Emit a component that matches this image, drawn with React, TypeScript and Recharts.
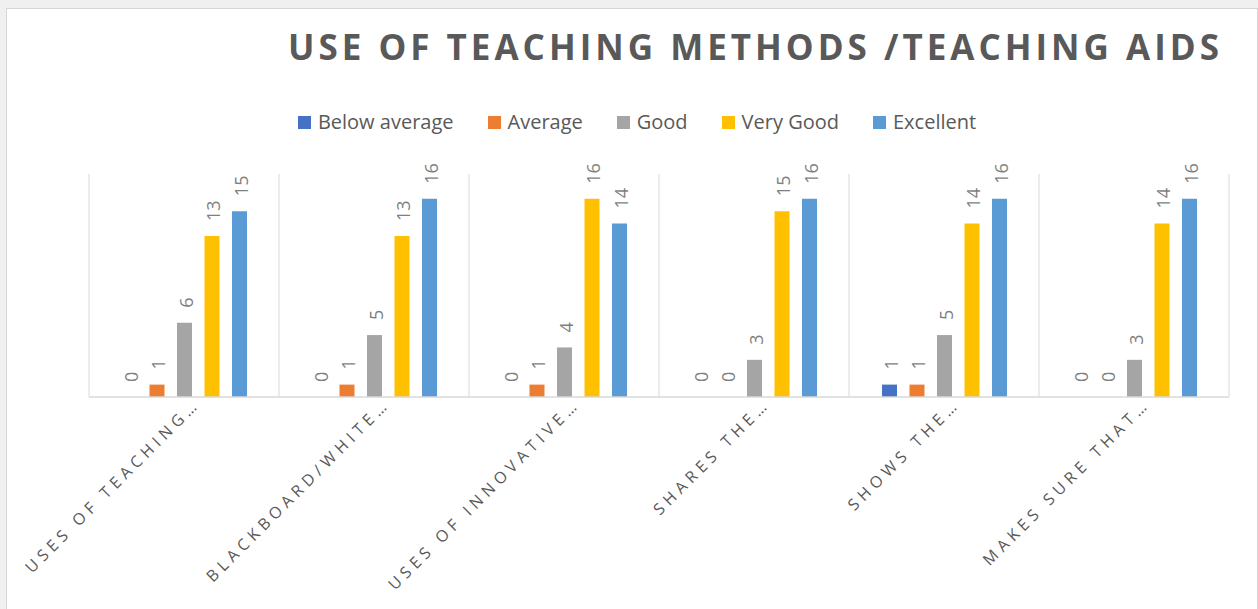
import React from 'react';
import { BarChart, Bar, XAxis, YAxis, CartesianGrid, LabelList } from 'recharts';

// category labels as Excel truncated them
const categories = [
  'USES OF TEACHING…',
  'BLACKBOARD/WHITE…',
  'USES OF INNOVATIVE…',
  'SHARES THE…',
  'SHOWS THE…',
  'MAKES SURE THAT…',
];

const belowAverage = [0, 0, 0, 0, 1, 0];
const average = [1, 1, 1, 0, 1, 0];
const good = [6, 5, 4, 3, 5, 3];
const veryGood = [13, 13, 16, 15, 14, 14];
const excellent = [15, 16, 14, 16, 16, 16];

const series = [
  { key: 'belowAverage', name: 'Below average', color: '#4472C4' },
  { key: 'average', name: 'Average', color: '#ED7D31' },
  { key: 'good', name: 'Good', color: '#A5A5A5' },
  { key: 'veryGood', name: 'Very Good', color: '#FFC000' },
  { key: 'excellent', name: 'Excellent', color: '#5B9BD5' },
];

const data = categories.map((name, i) => ({
  name,
  belowAverage: belowAverage[i],
  average: average[i],
  good: good[i],
  veryGood: veryGood[i],
  excellent: excellent[i],
}));

const FONT = "'Open Sans', 'Liberation Sans', sans-serif";
const TEXT = '#595959';

const AxisTick = (props: any) => {
  const { x, y, payload } = props;
  return (
    <g transform={`translate(${Number(x) + 17},${Number(y)})`}>
      <text
        textAnchor="end"
        transform="rotate(-45)"
        fontSize={16}
        letterSpacing={4.8}
        fill={TEXT}
        fontFamily={FONT}
      >
        {payload.value}
      </text>
    </g>
  );
};

// rotated value label sitting above each bar
const ValueLabel = (props: any) => {
  const { x, y, width, value } = props;
  const cx = Number(x) + Number(width) / 2 + 1;
  const top = Number(y) - 15;
  return (
    <text
      transform={`translate(${cx},${top}) rotate(-90)`}
      textAnchor="start"
      dominantBaseline="central"
      fontSize={18}
      fill="#7f7f7f"
      fontFamily={FONT}
    >
      {String(value)}
    </text>
  );
};

const App: React.FC = () => {
  const gridLines = ({ offset }: any) =>
    Array.from({ length: categories.length + 1 }, (_, i) => offset.left + (i * offset.width) / categories.length);

  return (
    <div style={{ position: 'absolute', left: 0, top: 0, width: 1258, height: 609, background: '#f0f0f0', overflow: 'hidden' }}>
      <div
        style={{
          position: 'absolute', left: 6, top: 8, width: 1252, height: 620,
          background: '#ffffff', border: '1px solid #d6d6d6', boxSizing: 'border-box',
        }}
      />

      {/* legend */}
      <div
        style={{
          position: 'absolute', left: 11, top: 110, width: 1252, display: 'flex',
          justifyContent: 'center', gap: 34, fontFamily: FONT, fontSize: 20, color: TEXT, lineHeight: '24px',
        }}
      >
        {series.map(s => (
          <div key={s.key} style={{ display: 'flex', alignItems: 'center' }}>
            <span style={{ width: 13, height: 13, background: s.color, display: 'inline-block', marginRight: 7 }} />
            <span>{s.name}</span>
          </div>
        ))}
      </div>

      <div style={{ position: 'absolute', left: 0, top: 0 }}>
        <BarChart
          width={1258}
          height={609}
          data={data}
          margin={{ top: 174, right: 29, bottom: 12, left: 89 }}
          barSize={15}
          barGap={12.5}
        >
          <CartesianGrid horizontal={false} stroke="#d9d9d9" verticalCoordinatesGenerator={gridLines} />
          <XAxis
            dataKey="name"
            height={200}
            tickLine={false}
            axisLine={{ stroke: '#d9d9d9', strokeWidth: 1.5 }}
            tick={<AxisTick />}
            interval={0}
          />
          <YAxis hide domain={[0, 18]} />
          {series.map(s => (
            <Bar key={s.key} dataKey={s.key} name={s.name} fill={s.color} minPointSize={0.01} isAnimationActive={false}>
              <LabelList dataKey={s.key} content={<ValueLabel />} />
            </Bar>
          ))}
        </BarChart>
      </div>

      <svg width={1258} height={609} style={{ position: 'absolute', left: 0, top: 0, pointerEvents: 'none' }}>
        <text x={288} y={60} fontFamily={FONT} fontWeight={700} fontSize={35} letterSpacing={4} fill={TEXT}>
          USE OF TEACHING METHODS /TEACHING AIDS
        </text>
      </svg>
    </div>
  );
};

export default App;
